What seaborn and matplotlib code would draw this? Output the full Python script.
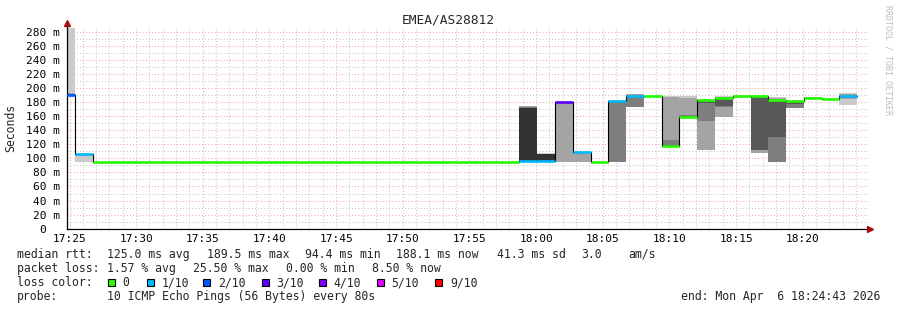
import numpy as np
import pandas as pd
import matplotlib
matplotlib.use("Agg")
import matplotlib.pyplot as plt
from matplotlib.patches import Rectangle
from matplotlib.ticker import MultipleLocator
import seaborn as sns

# ---------------- data ----------------
title = "EMEA/AS28812"
axis_origin = "17:25:00"          # time of the first x tick
sample_start = "17:24:05"         # start of the first 80 s sample
sample_step_s = 80

median_ms = [189.5, 106.2,
             94.5, 94.5, 94.5, 94.4, 94.5, 94.5, 94.5, 94.5, 94.5, 94.5, 94.5, 94.5,
             94.5, 94.5, 94.5, 94.5, 94.5, 94.5, 94.5, 94.5, 94.5, 94.5, 94.5, 94.5,
             96.0, 96.0, 180.0, 108.5, 95.0, 181.5, 188.0, 188.0, 118.0, 158.0,
             182.5, 186.0, 188.2, 188.0, 182.5, 182.0, 185.0, 183.6, 188.1]

loss_count = [2, 1,
              0, 0, 0, 0, 0, 0, 0, 0, 0, 0, 0, 0,
              0, 0, 0, 0, 0, 0, 0, 0, 0, 0, 0, 0,
              1, 1, 3, 1, 0, 1, 1, 0, 0, 0,
              0, 0, 0, 0, 0, 0, 0, 0, 1]

pings_ms = [
    [189.5, 189.5, 190, 190, 191, 191, 192, 192, 193, 285],
    [95, 106.2, 106.2, 106.2, 106.2, 106.2, 106.2, 106.2, 106.2, 106.2],
    [94.5, 94.5, 94.5, 94.5, 94.5, 94.5, 94.5, 94.5, 94.5, 94.5],
    [94.5, 94.5, 94.5, 94.5, 94.5, 94.5, 94.5, 94.5, 94.5, 94.5],
    [94.5, 94.5, 94.5, 94.5, 94.5, 94.5, 94.5, 94.5, 94.5, 94.5],
    [94.4, 94.4, 94.4, 94.4, 94.4, 94.4, 94.4, 94.4, 94.4, 94.4],
    [94.5, 94.5, 94.5, 94.5, 94.5, 94.5, 94.5, 94.5, 94.5, 94.5],
    [94.5, 94.5, 94.5, 94.5, 94.5, 94.5, 94.5, 94.5, 94.5, 94.5],
    [94.5, 94.5, 94.5, 94.5, 94.5, 94.5, 94.5, 94.5, 94.5, 94.5],
    [94.5, 94.5, 94.5, 94.5, 94.5, 94.5, 94.5, 94.5, 94.5, 94.5],
    [94.5, 94.5, 94.5, 94.5, 94.5, 94.5, 94.5, 94.5, 94.5, 94.5],
    [94.5, 94.5, 94.5, 94.5, 94.5, 94.5, 94.5, 94.5, 94.5, 94.5],
    [94.5, 94.5, 94.5, 94.5, 94.5, 94.5, 94.5, 94.5, 94.5, 94.5],
    [94.5, 94.5, 94.5, 94.5, 94.5, 94.5, 94.5, 94.5, 94.5, 94.5],
    [94.5, 94.5, 94.5, 94.5, 94.5, 94.5, 94.5, 94.5, 94.5, 94.5],
    [94.5, 94.5, 94.5, 94.5, 94.5, 94.5, 94.5, 94.5, 94.5, 94.5],
    [94.5, 94.5, 94.5, 94.5, 94.5, 94.5, 94.5, 94.5, 94.5, 94.5],
    [94.5, 94.5, 94.5, 94.5, 94.5, 94.5, 94.5, 94.5, 94.5, 94.5],
    [94.5, 94.5, 94.5, 94.5, 94.5, 94.5, 94.5, 94.5, 94.5, 94.5],
    [94.5, 94.5, 94.5, 94.5, 94.5, 94.5, 94.5, 94.5, 94.5, 94.5],
    [94.5, 94.5, 94.5, 94.5, 94.5, 94.5, 94.5, 94.5, 94.5, 94.5],
    [94.5, 94.5, 94.5, 94.5, 94.5, 94.5, 94.5, 94.5, 94.5, 94.5],
    [94.5, 94.5, 94.5, 94.5, 94.5, 94.5, 94.5, 94.5, 94.5, 94.5],
    [94.5, 94.5, 94.5, 94.5, 94.5, 94.5, 94.5, 94.5, 94.5, 94.5],
    [94.5, 94.5, 94.5, 94.5, 94.5, 94.5, 94.5, 94.5, 94.5, 94.5],
    [94.5, 94.5, 94.5, 94.5, 94.5, 94.5, 94.5, 94.5, 94.5, 94.5],
    [95, 95, 95, 95, 96, 172, 172, 173, 174, 175],
    [95, 95, 95, 95, 96, 106, 106, 106, 106, 107],
    [95, 95, 180, 180, 180, 180, 180, 180, 180, 180],
    [95, 95, 107, 107, 108, 108.5, 108.5, 108.5, 108.5, 108.5],
    [95, 95, 95, 95, 95, 95, 95, 95, 95, 95],
    [95, 95, 95, 180, 181, 181.5, 181.5, 181.5, 181.5, 181.5],
    [173, 173, 173, 188, 188, 188, 188, 188, 191, 191],
    [187, 188, 188, 188, 188, 188, 188, 188, 188, 189],
    [118, 118, 118, 118, 118, 118, 119, 126, 187, 188],
    [158, 158, 158, 158, 158, 159, 159, 162, 186, 188],
    [112, 112, 153, 178, 182, 183, 183, 183, 183, 184],
    [158, 159, 173, 175, 184, 186, 186, 186, 187, 188],
    [186, 187, 188, 188, 188, 188.2, 188.2, 188.2, 189, 190],
    [107, 108, 112, 112, 186, 187, 187, 188, 188, 190],
    [95, 95, 95, 130, 181, 182, 183, 183, 186, 187],
    [171, 171, 171, 177, 181, 182, 182, 182, 182, 183],
    [184, 185, 185, 185, 185, 185, 186, 186, 187, 187],
    [183.5, 183.6, 183.6, 183.6, 183.6, 183.6, 183.6, 183.6, 183.6, 183.7],
    [176, 184, 188, 188, 188, 188.1, 188.1, 188.1, 192, 193],
]

loss_levels = [0, 1, 2, 3, 4, 5, 9]
loss_labels = ["0", "1/10", "2/10", "3/10", "4/10", "5/10", "9/10"]
loss_colors = ["#26ff00", "#00b8ff", "#0059ff", "#5e00ff", "#7e00ff", "#dd00ff", "#ff0000"]
smoke_grays = ["#cacaca", "#a4a4a4", "#7e7e7e", "#585858", "#323232"]

x_tick_labels = ["17:25", "17:30", "17:35", "17:40", "17:45", "17:50",
                 "17:55", "18:00", "18:05", "18:10", "18:15", "18:20"]
y_tick_values = [0, 20, 40, 60, 80, 100, 120, 140, 160, 180, 200, 220, 240, 260, 280]
y_tick_labels = ["0  ", "20 m", "40 m", "60 m", "80 m", "100 m", "120 m", "140 m",
                 "160 m", "180 m", "200 m", "220 m", "240 m", "260 m", "280 m"]

rtt_label = "median rtt:"
rtt_stats = ["125.0 ms avg", "189.5 ms max", "94.4 ms min", "188.1 ms now",
             "41.3 ms sd", "3.0", "am/s"]
loss_label = "packet loss:"
loss_stats = ["1.57 % avg", "25.50 % max", "0.00 % min", "8.50 % now"]
color_label = "loss color:"
probe_label = "probe:"
probe_text = "10 ICMP Echo Pings (56 Bytes) every 80s"
end_text = "end: Mon Apr  6 18:24:43 2026"
watermark = "RRDTOOL / TOBI OETIKER"
y_label = "Seconds"

# ---------------- layout ----------------
W, H = 897, 310
sns.set_theme(style="white")
plt.rcParams["font.family"] = ["DejaVu Sans Mono", "DejaVu Sans"]

fig = plt.figure(figsize=(W / 100, H / 100), dpi=100)
fig.patch.set_facecolor("white")
ax_left, ax_right, ax_top, ax_bottom = 67, 868, 26, 228.7
ax = fig.add_axes([ax_left / W, 1 - ax_bottom / H, (ax_right - ax_left) / W, (ax_bottom - ax_top) / H])
ax.set_facecolor("white")

px_per_min = 13.333
x_origin_px = 69.5
ax.set_xlim((ax_left - x_origin_px) / px_per_min, (ax_right - x_origin_px) / px_per_min)
ax.set_ylim(0, 288)

def to_min(hms):
    return (pd.Timestamp("2026-04-06 " + hms) - pd.Timestamp("2026-04-06 " + axis_origin)).total_seconds() / 60

t0 = to_min(sample_start)
n = len(median_ms)
starts = np.array([t0 + k * sample_step_s / 60 for k in range(n)])
ends = starts + sample_step_s / 60

# smoke
for k in range(n):
    p = pings_ms[k]
    for i in range(5):
        lo, hi = p[i], p[9 - i]
        if np.isfinite(lo) and np.isfinite(hi) and hi > lo:
            ax.fill_between([starts[k], ends[k]], [lo, lo], [hi, hi],
                            color=smoke_grays[i], linewidth=0, antialiased=False, zorder=2)

# black median step line
df = pd.DataFrame({"t": list(starts) + [ends[-1]], "median": median_ms + [median_ms[-1]]})
sns.lineplot(data=df, x="t", y="median", drawstyle="steps-post", color="black",
             linewidth=0.8, estimator=None, sort=False, ax=ax, zorder=3)

def loss_color(c):
    idx = max(i for i, l in enumerate(loss_levels) if c >= l)
    return loss_colors[idx]

seg_colors = [loss_color(c) for c in loss_count]
ax.hlines(median_ms, starts, ends, colors=seg_colors, linewidth=1.9, zorder=4)

# grid & ticks
ax.set_axisbelow(True)
ax.set_xticks([5 * i for i in range(len(x_tick_labels))])
ax.set_xticklabels(x_tick_labels)
ax.xaxis.set_minor_locator(MultipleLocator(1))
ax.set_yticks(y_tick_values)
ax.set_yticklabels(y_tick_labels)
ax.yaxis.set_minor_locator(MultipleLocator(10))
ax.grid(True, which="minor", color="#c8c8c8", linestyle=(0, (1, 2)), linewidth=0.75)
ax.grid(True, which="major", color="#f2a8a8", linestyle=(0, (1, 2)), linewidth=0.75)
ax.tick_params(axis="both", which="both", length=0)
ax.tick_params(axis="x", labelsize=8, pad=4, colors="black")
ax.tick_params(axis="y", labelsize=8, pad=5, colors="black")
ax.set_xlabel("")
ax.set_ylabel("")
for side in ["top", "right"]:
    ax.spines[side].set_visible(False)
for side in ["left", "bottom"]:
    ax.spines[side].set_color("black")
    ax.spines[side].set_linewidth(0.9)

# axis arrows
ax.plot([0], [1.015], marker="^", color="#a01010", markersize=4, transform=ax.transAxes,
        clip_on=False, zorder=6)
ax.plot([1.003], [0], marker=">", color="#a01010", markersize=4, transform=ax.transAxes,
        clip_on=False, zorder=6)

def ftext(x, y, s, **kw):
    fig.text(x / W, 1 - y / H, s, **kw)

ftext(448, 20, title, ha="center", va="center", fontsize=9.3)
ftext(11, 127.5, y_label, ha="center", va="center", rotation=90, fontsize=8.3)
ftext(888, 60, watermark, ha="center", va="center", rotation=270, fontsize=6.0, color="#bdbdbd")

fs = 8.3
ftext(16.5, 254.3, rtt_label, va="center", fontsize=fs)
for xpos, s in zip([107.3, 207.3, 305, 396, 497, 581.7, 628.3], rtt_stats):
    ftext(xpos, 254.3, s, va="center", fontsize=fs)
ftext(16.5, 268.3, loss_label, va="center", fontsize=fs)
for xpos, s in zip([107.3, 193.3, 286, 372.3], loss_stats):
    ftext(xpos, 268.3, s, va="center", fontsize=fs)
ftext(16.5, 282.7, color_label, va="center", fontsize=fs)
box_x = [108, 146.7, 203.3, 261.7, 319, 376.7, 435.3]
for bx, lab, col in zip(box_x, loss_labels, loss_colors):
    fig.patches.append(Rectangle((bx / W, 1 - 286.2 / H), 7 / W, 7 / H, transform=fig.transFigure,
                                 facecolor=col, edgecolor="black", linewidth=0.8))
    ftext(bx + 14.5, 282.7, lab, va="center", fontsize=fs)
ftext(16.5, 296.7, probe_label, va="center", fontsize=fs)
ftext(107.3, 296.7, probe_text, va="center", fontsize=fs)
ftext(880, 296.7, end_text, ha="right", va="center", fontsize=fs)

fig.savefig("out.png", dpi=100, facecolor="white")
